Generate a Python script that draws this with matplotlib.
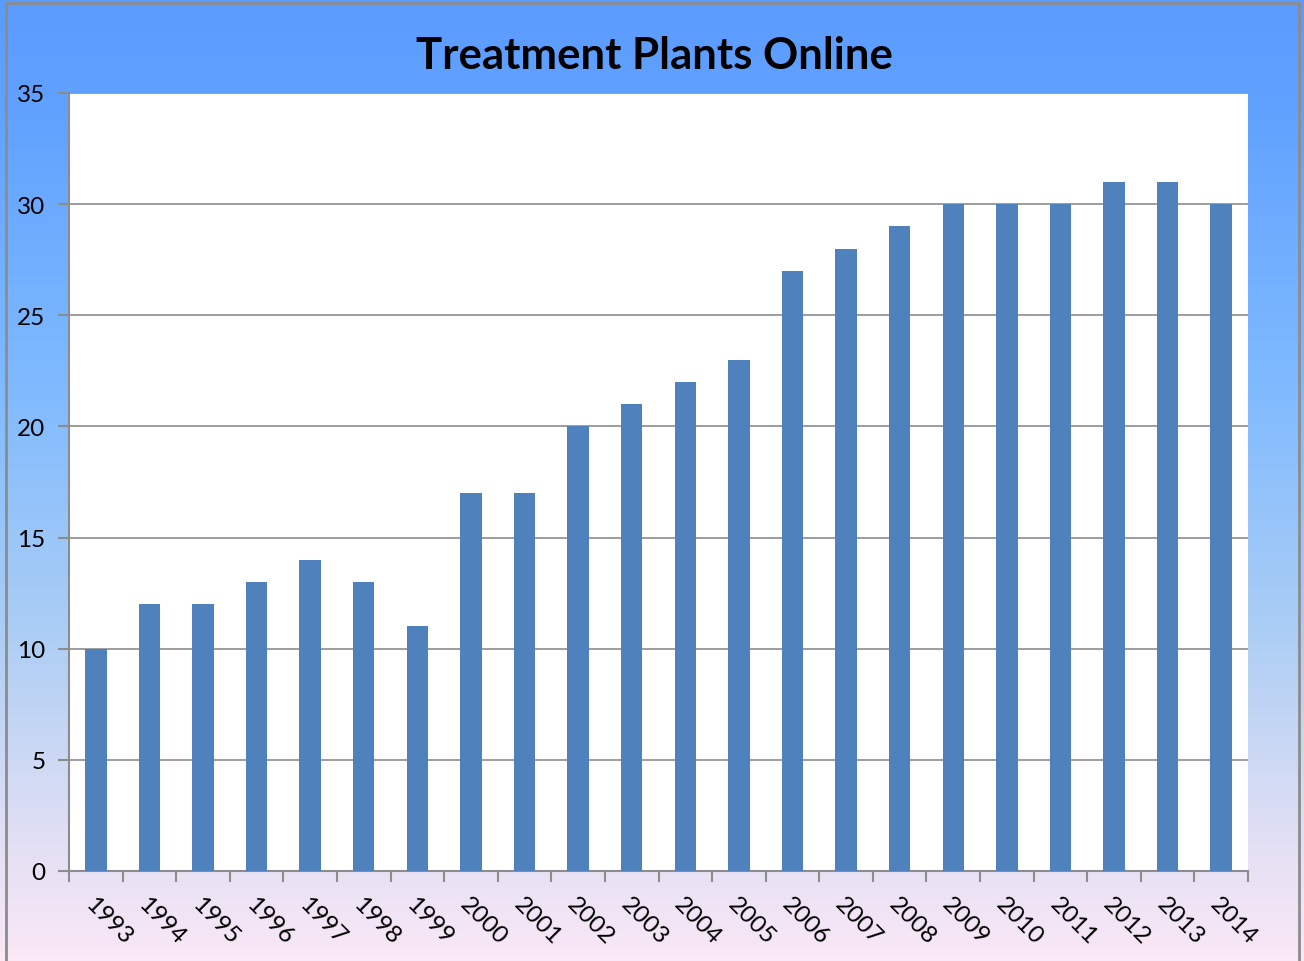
import matplotlib
matplotlib.use("Agg")
import matplotlib.pyplot as plt
import numpy as np
from matplotlib.colors import LinearSegmentedColormap

years = ["1993", "1994", "1995", "1996", "1997", "1998", "1999", "2000", "2001", "2002",
         "2003", "2004", "2005", "2006", "2007", "2008", "2009", "2010", "2011", "2012",
         "2013", "2014"]
plants = [10, 12, 12, 13, 14, 13, 11, 17, 17, 20, 21, 22, 23, 27, 28, 29, 30, 30, 30, 31, 31, 30]
title = "Treatment Plants Online"

W, H = 1304, 962
fig = plt.figure(figsize=(W / 100, H / 100), dpi=100)

# background gradient
bg = fig.add_axes([0, 0, 1, 1], zorder=0)
cmap = LinearSegmentedColormap.from_list(
    "bg", [(0.0, "#5B9BFF"), (0.12, "#61A2FF"), (0.4, "#7FBAFF"),
           (0.65, "#AACDF5"), (0.88, "#E3E0F4"), (1.0, "#FAE8F6")])
grad = np.linspace(0, 1, 256).reshape(-1, 1)
bg.imshow(grad, aspect="auto", cmap=cmap, extent=[0, 1, 1, 0])
bg.set_xlim(0, 1)
bg.set_ylim(1, 0)
bg.axis("off")
x0, x1 = 6 / W, 1299 / W
y0 = 4 / H
bg.plot([x0, x1], [y0, y0], color="#8C8C8C", lw=2)
bg.plot([x0, x0], [y0, 1.0], color="#8C8C8C", lw=2)
bg.plot([x1, x1], [y0, 1.0], color="#8C8C8C", lw=2)

left, right, top, bottom = 69, 1248, 94, 872
ax = fig.add_axes([left / W, 1 - bottom / H, (right - left) / W, (bottom - top) / H], zorder=1)
ax.set_facecolor("white")

x = np.arange(len(years))
ax.bar(x, plants, width=0.4, color="#4F81BD", zorder=3)
ax.set_xlim(-0.5, len(years) - 0.5)
ax.set_ylim(0, 35)
ax.set_yticks(np.arange(0, 36, 5))
ax.yaxis.grid(True, color="#8C8C8C", lw=1.2, zorder=1)
ax.set_axisbelow(True)

for s in ["top", "right"]:
    ax.spines[s].set_visible(False)
for s in ["left", "bottom"]:
    ax.spines[s].set_color("#8C8C8C")
    ax.spines[s].set_linewidth(1.5)

font = "Lato"
ax.set_xticks(np.arange(-0.5, len(years), 1))
ax.set_xticklabels([])
ax.set_xticks(x, minor=True)
ax.set_xticklabels(years, minor=True, rotation=-45, ha="left", va="top",
                   rotation_mode="anchor", fontsize=17.5, family=font)
ax.tick_params(axis="x", which="major", length=8, width=1.5, color="#8C8C8C", direction="out")
ax.tick_params(axis="x", which="minor", length=0, pad=16)
ax.tick_params(axis="y", length=8, width=1.5, color="#8C8C8C", direction="out", pad=9)
for lab in ax.get_yticklabels():
    lab.set_fontsize(17.5)
    lab.set_family(font)

fig.text(654 / W, 1 - 56 / H, title, ha="center", va="center", fontsize=31.5,
         fontweight="bold", family=font)

fig.savefig("out.png", dpi=100)
